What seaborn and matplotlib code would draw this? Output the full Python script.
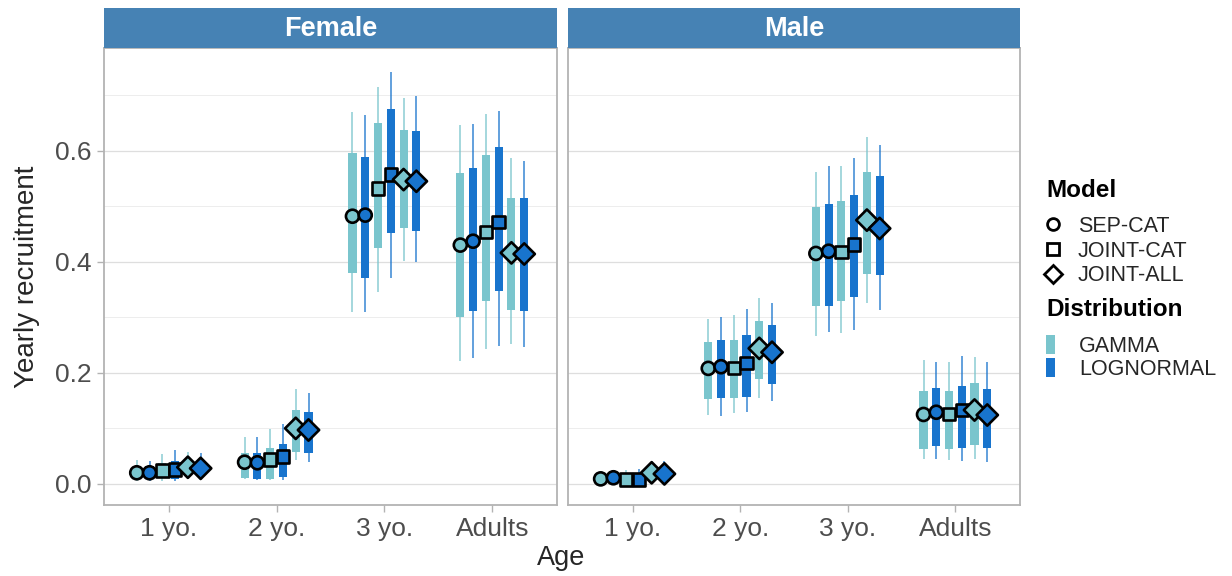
import numpy as np
import pandas as pd
import matplotlib
matplotlib.use("Agg")
import matplotlib.pyplot as plt
import seaborn as sns
from matplotlib.lines import Line2D
from matplotlib.patches import Patch
from matplotlib.ticker import MultipleLocator

# ---------------- data ----------------
ages = ["1 yo.", "2 yo.", "3 yo.", "Adults"]
sexes = ["Female", "Male"]
models = ["SEP-CAT", "JOINT-CAT", "JOINT-ALL"]
dists = ["GAMMA", "LOGNORMAL"]
# columns in each row: SEP-CAT/GAMMA, SEP-CAT/LOGNORMAL, JOINT-CAT/GAMMA,
# JOINT-CAT/LOGNORMAL, JOINT-ALL/GAMMA, JOINT-ALL/LOGNORMAL ; rows = ages
female_lo = [[0.005, 0.005, 0.006, 0.005, 0.012, 0.011],
             [0.008, 0.007, 0.007, 0.007, 0.043, 0.040],
             [0.309, 0.309, 0.346, 0.371, 0.401, 0.399],
             [0.221, 0.227, 0.242, 0.248, 0.252, 0.247]]
female_q25 = [[0.010, 0.008, 0.011, 0.009, 0.017, 0.016],
              [0.010, 0.008, 0.009, 0.012, 0.058, 0.055],
              [0.379, 0.371, 0.424, 0.451, 0.460, 0.455],
              [0.301, 0.311, 0.330, 0.347, 0.314, 0.311]]
female_med = [[0.020, 0.020, 0.024, 0.026, 0.030, 0.028],
              [0.039, 0.038, 0.044, 0.049, 0.100, 0.097],
              [0.482, 0.484, 0.532, 0.557, 0.548, 0.545],
              [0.430, 0.437, 0.454, 0.472, 0.416, 0.414]]
female_q75 = [[0.032, 0.033, 0.038, 0.042, 0.043, 0.040],
              [0.056, 0.056, 0.065, 0.071, 0.133, 0.129],
              [0.596, 0.588, 0.650, 0.675, 0.638, 0.635],
              [0.560, 0.569, 0.593, 0.606, 0.515, 0.514]]
female_hi = [[0.043, 0.042, 0.053, 0.061, 0.058, 0.055],
             [0.084, 0.084, 0.099, 0.108, 0.170, 0.163],
             [0.669, 0.664, 0.714, 0.742, 0.695, 0.698],
             [0.646, 0.648, 0.667, 0.672, 0.586, 0.581]]

male_lo = [[0.002, 0.002, 0.002, 0.002, 0.006, 0.006],
           [0.124, 0.122, 0.127, 0.129, 0.155, 0.149],
           [0.267, 0.273, 0.272, 0.278, 0.326, 0.314],
           [0.044, 0.044, 0.043, 0.041, 0.044, 0.040]]
male_q25 = [[0.004, 0.004, 0.004, 0.004, 0.010, 0.009],
            [0.152, 0.154, 0.155, 0.157, 0.188, 0.179],
            [0.321, 0.320, 0.329, 0.336, 0.378, 0.376],
            [0.062, 0.068, 0.062, 0.064, 0.070, 0.064]]
male_med = [[0.009, 0.011, 0.008, 0.008, 0.020, 0.018],
            [0.208, 0.211, 0.209, 0.218, 0.244, 0.237],
            [0.415, 0.419, 0.418, 0.431, 0.475, 0.460],
            [0.125, 0.129, 0.126, 0.133, 0.133, 0.124]]
male_q75 = [[0.015, 0.016, 0.014, 0.015, 0.030, 0.028],
            [0.256, 0.259, 0.259, 0.268, 0.293, 0.286],
            [0.499, 0.504, 0.509, 0.521, 0.562, 0.554],
            [0.167, 0.172, 0.167, 0.177, 0.181, 0.170]]
male_hi = [[0.024, 0.025, 0.025, 0.027, 0.042, 0.042],
           [0.297, 0.300, 0.305, 0.315, 0.335, 0.326],
           [0.562, 0.573, 0.573, 0.586, 0.625, 0.610],
           [0.223, 0.220, 0.220, 0.231, 0.229, 0.220]]

# ---------------- styling ----------------
palette = {"GAMMA": "#7AC5CD", "LOGNORMAL": "#1874CD"}
markers = {"SEP-CAT": "o", "JOINT-CAT": "s", "JOINT-ALL": "D"}
marker_sizes = {"SEP-CAT": 88, "JOINT-CAT": 80, "JOINT-ALL": 118}
dodge_step = 0.1185
box_width = 0.075

stats = {
    "Female": (female_lo, female_q25, female_med, female_q75, female_hi),
    "Male": (male_lo, male_q25, male_med, male_q75, male_hi),
}
rows = []
for sex in sexes:
    lo, q25, med, q75, hi = stats[sex]
    for ai, age in enumerate(ages):
        k = 0
        for m in models:
            for d in dists:
                rows.append(dict(Sex=sex, Age=age, Model=m, Distribution=d,
                                 lo=lo[ai][k], q25=q25[ai][k], med=med[ai][k],
                                 q75=q75[ai][k], hi=hi[ai][k],
                                 xpos=ai + (k - 2.5) * dodge_step))
                k += 1
df = pd.DataFrame(rows)

sns.set_theme(style="white")
plt.rcParams["font.family"] = ["Liberation Sans", "DejaVu Sans"]

fig = plt.figure(figsize=(12.32, 5.76), dpi=100)
panel_b, panel_h = 0.1233, 0.7934
lefts = [0.0844, 0.4610]
widths = [0.3677, 0.3669]
grey_txt = "#4D4D4D"
border = "#B3B3B3"

for i, sex in enumerate(sexes):
    ax = fig.add_axes([lefts[i], panel_b, widths[i], panel_h])
    sub = df[df["Sex"] == sex]
    cols = sub["Distribution"].map(palette).tolist()
    ax.vlines(sub["xpos"], sub["lo"], sub["hi"], colors=cols, lw=1.2,
              alpha=0.8, zorder=2)
    ax.bar(sub["xpos"], sub["q75"] - sub["q25"], bottom=sub["q25"],
           width=box_width, color=cols, zorder=2, linewidth=0)
    sns.scatterplot(data=sub, x="xpos", y="med", hue="Distribution",
                    style="Model", size="Model", markers=markers,
                    palette=palette, sizes=marker_sizes,
                    hue_order=dists, style_order=models, size_order=models,
                    edgecolor="black", linewidth=1.9, legend=False,
                    ax=ax, zorder=3)
    ax.set_xlim(-0.6, 3.6)
    ax.set_ylim(-0.038, 0.785)
    ax.set_xticks(range(len(ages)))
    ax.set_xticklabels(ages)
    ax.yaxis.set_major_locator(MultipleLocator(0.2))
    ax.yaxis.set_minor_locator(MultipleLocator(0.1))
    ax.yaxis.set_major_formatter(matplotlib.ticker.FormatStrFormatter("%.1f"))
    ax.grid(axis="y", which="major", color="#DEDEDE", lw=0.9, zorder=0)
    ax.grid(axis="y", which="minor", color="#EDEDED", lw=0.7, zorder=0)
    ax.grid(axis="x", visible=False)
    ax.set_axisbelow(True)
    ax.set_xlabel("")
    ax.set_ylabel("")
    for sp in ax.spines.values():
        sp.set_color(border)
        sp.set_linewidth(1.3)
    ax.tick_params(axis="x", which="major", length=5, color=border, width=1,
                   labelsize=19, labelcolor=grey_txt, pad=4, bottom=True)
    ax.tick_params(axis="y", which="minor", length=0)
    if i == 0:
        ax.tick_params(axis="y", which="major", length=5, color=border,
                       width=1, labelsize=19, labelcolor=grey_txt, pad=4,
                       left=True)
    else:
        ax.tick_params(axis="y", which="major", length=0, labelleft=False)
    # facet strip
    sax = fig.add_axes([lefts[i], panel_b + panel_h, widths[i], 0.0694])
    sax.set_facecolor("#4682B4")
    sax.set_xticks([])
    sax.set_yticks([])
    for sp in sax.spines.values():
        sp.set_visible(False)
    sax.text(0.5, 0.47, sex, ha="center", va="center", color="white",
             fontsize=19.5, fontweight="bold", transform=sax.transAxes)

fig.text(0.4555, 0.031, "Age", ha="center", va="center", fontsize=19.5)
fig.text(0.022, 0.519, "Yearly recruitment", ha="center", va="center",
         rotation=90, fontsize=20)

# legends
fig.text(0.849, 0.670, "Model", ha="left", va="center", fontsize=17.5,
         fontweight="bold", color="black")
fig.text(0.849, 0.462, "Distribution", ha="left", va="center", fontsize=17.5,
         fontweight="bold", color="black")
model_handles = [Line2D([], [], ls="none", marker=markers[m], markersize=ms,
                        markerfacecolor="white", markeredgecolor="black",
                        markeredgewidth=2)
                 for m, ms in zip(models, [8.5, 8.5, 9.5])]
leg1 = fig.legend(model_handles, models, loc="upper left",
                  bbox_to_anchor=(0.849, 0.625), frameon=False,
                  fontsize=15.5, handlelength=0.64, handletextpad=0.85,
                  labelspacing=0.17, borderpad=0, borderaxespad=0)
dist_handles = [Patch(facecolor=palette[d], edgecolor="none") for d in dists]
leg2 = fig.legend(dist_handles, dists, loc="upper left",
                  bbox_to_anchor=(0.849, 0.419), frameon=False,
                  fontsize=15.5, handlelength=0.42, handleheight=1.0,
                  handletextpad=1.12, labelspacing=0.07, borderpad=0,
                  borderaxespad=0)

fig.savefig("out.png", dpi=100, facecolor="white")
